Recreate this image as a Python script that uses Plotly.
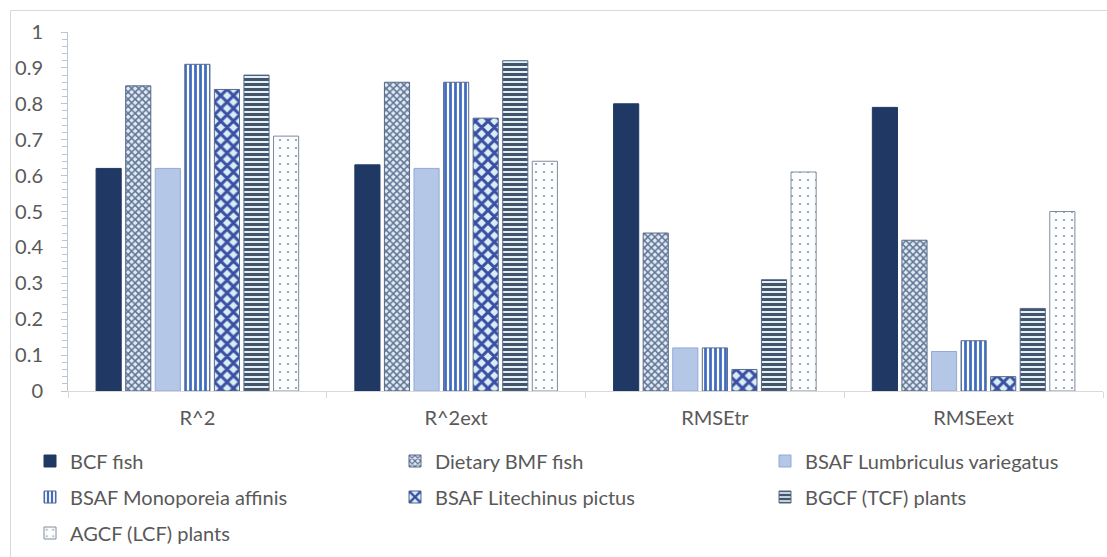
import plotly.graph_objects as go

categories = ["R^2", "R^2ext", "RMSEtr", "RMSEext"]
series_names = [
    "BCF fish",
    "Dietary BMF fish",
    "BSAF Lumbriculus variegatus",
    "BSAF Monoporeia affinis",
    "BSAF Litechinus pictus",
    "BGCF (TCF) plants",
    "AGCF (LCF) plants",
]
bcf_fish = [0.62, 0.63, 0.80, 0.79]
dietary_bmf_fish = [0.85, 0.86, 0.44, 0.42]
bsaf_lumbriculus = [0.62, 0.62, 0.12, 0.11]
bsaf_monoporeia = [0.91, 0.86, 0.12, 0.14]
bsaf_litechinus = [0.84, 0.76, 0.06, 0.04]
bgcf_plants = [0.88, 0.92, 0.31, 0.23]
agcf_plants = [0.71, 0.64, 0.61, 0.50]
y_tick_vals = [0, 0.1, 0.2, 0.3, 0.4, 0.5, 0.6, 0.7, 0.8, 0.9, 1]

series_values = [bcf_fish, dietary_bmf_fish, bsaf_lumbriculus, bsaf_monoporeia,
                 bsaf_litechinus, bgcf_plants, agcf_plants]

W, H = 1107, 557
L, R, T, B = 68, 4, 32, 166
PW, PH = W - L - R, H - T - B


def px_x(px):
    return (px - L) / PW


def px_y(py):
    return (H - B - py) / PH


FONT = "Lato"
TXT = "#595959"
OUT = "#55698a"

styles = [
    dict(color="#1f3864", line=dict(color="#1f3864", width=1)),
    dict(color="#dce6f2", line=dict(color=OUT, width=1),
         pattern=dict(shape="x", fgcolor="#5f7494", bgcolor="#e2eaf4", size=5,
                      solidity=0.5, fgopacity=1)),
    dict(color="#b4c7e7", line=dict(color="#8faadc", width=1)),
    dict(color="#ffffff", line=dict(color=OUT, width=1),
         pattern=dict(shape="|", fgcolor="#3f6cc0", bgcolor="#ffffff", size=5,
                      solidity=0.55, fgopacity=1)),
    dict(color="#dbeef4", line=dict(color=OUT, width=1),
         pattern=dict(shape="x", fgcolor="#3a4fa4", bgcolor="#d8edf4", size=9,
                      solidity=0.55, fgopacity=1)),
    dict(color="#e6f2f6", line=dict(color=OUT, width=1),
         pattern=dict(shape="-", fgcolor="#44546a", bgcolor="#e3f1f6", size=5,
                      solidity=0.6, fgopacity=1)),
    dict(color="#ffffff", line=dict(color="#7f8c9c", width=1),
         pattern=dict(shape=".", fgcolor="#8a96a6", bgcolor="#fbfdff", size=8,
                      solidity=0.06, fgopacity=1)),
]

# legend slot positions (text start x px, row center y px)
legend_pos = [(70, 461), (435, 461), (805, 461),
              (70, 497), (435, 497), (805, 497),
              (70, 533)]

fig = go.Figure()
for i, (name, vals, st) in enumerate(zip(series_names, series_values, styles)):
    lg = "legend" if i == 0 else f"legend{i + 1}"
    fig.add_trace(go.Bar(x=categories, y=vals, name=name, marker=st, legend=lg,
                         hoverinfo="x+y+name"))

layout_legends = {}
for i, (tx, ty) in enumerate(legend_pos):
    key = "legend" if i == 0 else f"legend{i + 1}"
    layout_legends[key] = dict(
        x=px_x(tx - 40), y=px_y(ty), xanchor="left", yanchor="middle",
        orientation="h", bgcolor="rgba(0,0,0,0)", borderwidth=0,
        font=dict(family=FONT, size=20, color=TXT),
    )

fig.update_layout(
    width=W, height=H,
    margin=dict(l=L, r=R, t=T, b=B, pad=0),
    paper_bgcolor="white", plot_bgcolor="white",
    barmode="group", bargap=0.2, bargroupgap=0.15,
    font=dict(family=FONT, size=20, color=TXT),
    showlegend=True,
    **layout_legends,
)

fig.update_xaxes(
    type="category", showgrid=False, showline=True, linecolor="#d9d9d9", linewidth=1,
    ticks="outside", tickson="boundaries", ticklen=6, tickcolor="#d9d9d9",
    tickfont=dict(family=FONT, size=20, color=TXT), ticklabelstandoff=9,
)
fig.update_yaxes(
    range=[0, 1], tickvals=y_tick_vals, showgrid=False, zeroline=False,
    showline=True, linecolor="#b8c6d6", linewidth=1,
    ticks="outside", ticklen=6, tickcolor="#b8c6d6",
    minor=dict(ticks="outside", dtick=0.02, ticklen=5, tickcolor="#b8c6d6", showgrid=False),
    tickfont=dict(family=FONT, size=20, color=TXT), ticklabelstandoff=14,
)

fig.add_shape(type="rect", xref="paper", yref="paper",
              x0=px_x(10.5), y0=px_y(10.5), x1=px_x(1120), y1=px_y(570),
              line=dict(color="#d9d9d9", width=1), layer="below")

fig.write_html("out.html")
